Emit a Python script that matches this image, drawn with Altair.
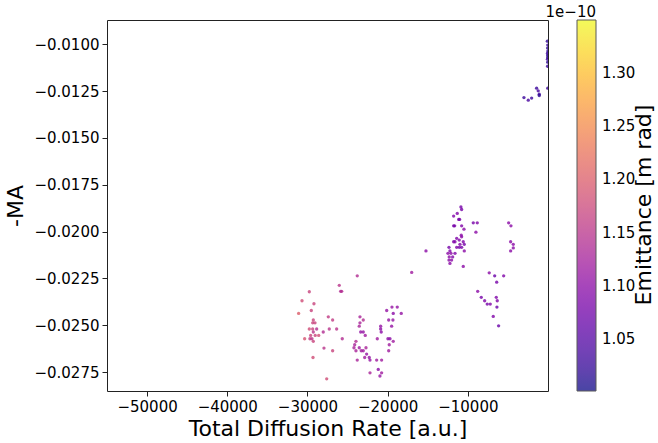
import altair as alt
import pandas as pd

# Total diffusion rate [a.u.] per working point
diffusion_rate = [
    # low-diffusion group
    -29770, -30680, -29190, -29520, -31100, -27400, -26860, -29270, -29350, -29060,
    -29770, -29350, -28850, -27280, -29270, -28030, -29600, -29030, -28600, -30350,
    -29690, -29440, -29270, -27940, -26860, -29310, -27600,
    # intermediate group
    -23790, -26030, -25860, -25730, -19460, -18800, -20120, -19300, -18300, -23450,
    -23040, -19870, -19340, -23450, -19500, -20870, -23540, -20870, -26360, -23360,
    -23040, -20800, -22790, -25660, -21290, -19960, -19710, -23950, -19300, -24110,
    -19800, -24200, -23540, -22700, -23950, -23290, -23040, -19870, -22620, -22860,
    -22290, -22200, -21370, -20750, -23790, -21170, -22200, -20750, -20960,
    -17000, -15220,
    # upper group
    -10860, -10770, -11320, -11770, -11140, -11020, -9320, -8820, -4910, -4620,
    -11770, -11640, -10770, -10480, -8990, -10820, -10770, -11390, -11070, -11770,
    -11600, -10570, -4660, -10980, -10440, -4330, -4330, -12350, -11390, -11070,
    -10770, -12230, -10440, -4660, -12480, -12100, -11600, -12320, -11890, -12350,
    -12020, -12230, -10570,
    # right-hand group
    -7330, -6650, -5530, -6400, -8770, -8320, -7900, -7580, -7200, -6450,
    -6330, -6370, -6830, -6160,
    # near-zero diffusion
    -3000, -2460, -2040, -1420, -1220, -1090, -1090,
    -80, -30, -50, -20, -60, -40, -30, -70, -40, -50, -30,
]

# Negative momentum acceptance (-MA)
minus_ma = [
    -0.02321, -0.02369, -0.02385, -0.02421, -0.02437, -0.02455, -0.02472, -0.02472, -0.02487, -0.02487,
    -0.02520, -0.02520, -0.02520, -0.02520, -0.02536, -0.02536, -0.02554, -0.02554, -0.02554, -0.02572,
    -0.02572, -0.02572, -0.02586, -0.02622, -0.02636, -0.02672, -0.02786,
    -0.02236, -0.02287, -0.02319, -0.02319, -0.02403, -0.02403, -0.02421, -0.02437, -0.02437, -0.02455,
    -0.02472, -0.02472, -0.02472, -0.02487, -0.02505, -0.02505, -0.02505, -0.02520, -0.02520, -0.02536,
    -0.02536, -0.02536, -0.02554, -0.02572, -0.02572, -0.02572, -0.02572, -0.02586, -0.02586, -0.02604,
    -0.02604, -0.02620, -0.02620, -0.02620, -0.02636, -0.02636, -0.02636, -0.02636, -0.02654, -0.02672,
    -0.02672, -0.02686, -0.02686, -0.02686, -0.02686, -0.02736, -0.02754, -0.02754, -0.02771,
    -0.02218, -0.02103,
    -0.01868, -0.01882, -0.01903, -0.01917, -0.01935, -0.01935, -0.01953, -0.01953, -0.01953, -0.01969,
    -0.01969, -0.01969, -0.01969, -0.01987, -0.02003, -0.02019, -0.02028, -0.02036, -0.02045, -0.02054,
    -0.02054, -0.02054, -0.02054, -0.02068, -0.02068, -0.02068, -0.02087, -0.02084, -0.02084, -0.02084,
    -0.02084, -0.02103, -0.02103, -0.02103, -0.02116, -0.02116, -0.02116, -0.02135, -0.02135, -0.02152,
    -0.02152, -0.02170, -0.02186,
    -0.02220, -0.02236, -0.02236, -0.02270, -0.02319, -0.02351, -0.02369, -0.02387, -0.02387, -0.02351,
    -0.02369, -0.02403, -0.02453, -0.02503,
    -0.01284, -0.01298, -0.01287, -0.01234, -0.01248, -0.01266, -0.01273,
    -0.00983, -0.01004, -0.01020, -0.01036, -0.01047, -0.01058, -0.01069, -0.01079, -0.01095, -0.01117,
    -0.01234,
]

# Emittance in units of 1e-10 m rad
emittance = [
    1.17, 1.18, 1.17, 1.17, 1.20, 1.16, 1.16, 1.17, 1.17, 1.17,
    1.18, 1.17, 1.14, 1.15, 1.15, 1.14, 1.17, 1.17, 1.18, 1.19,
    1.16, 1.15, 1.17, 1.15, 1.17, 1.18, 1.18,
    1.14, 1.15, 1.14, 1.14, 1.11, 1.11, 1.11, 1.10, 1.11, 1.13,
    1.14, 1.11, 1.11, 1.13, 1.11, 1.11, 1.13, 1.10, 1.15, 1.11,
    1.11, 1.10, 1.12, 1.14, 1.12, 1.10, 1.10, 1.14, 1.12, 1.13,
    1.12, 1.13, 1.12, 1.13, 1.13, 1.12, 1.12, 1.12, 1.11, 1.12,
    1.11, 1.11, 1.12, 1.12, 1.13, 1.10, 1.13, 1.12, 1.11,
    1.12, 1.10,
    1.08, 1.08, 1.09, 1.09, 1.08, 1.08, 1.08, 1.09, 1.10, 1.10,
    1.08, 1.08, 1.09, 1.10, 1.10, 1.10, 1.10, 1.09, 1.09, 1.09,
    1.09, 1.09, 1.10, 1.09, 1.08, 1.10, 1.10, 1.08, 1.09, 1.08,
    1.08, 1.09, 1.10, 1.10, 1.10, 1.10, 1.09, 1.10, 1.09, 1.10,
    1.10, 1.10, 1.10,
    1.10, 1.07, 1.09, 1.08, 1.10, 1.08, 1.09, 1.08, 1.09, 1.09,
    1.09, 1.07, 1.09, 1.07,
    1.03, 1.04, 1.03, 1.03, 1.04, 1.03, 1.02,
    1.02, 1.03, 1.02, 1.02, 1.03, 1.02, 1.02, 1.03, 1.02, 1.03,
    1.03,
]

x_ticks = [-50000, -40000, -30000, -20000, -10000]
y_ticks = [-0.0100, -0.0125, -0.0150, -0.0175, -0.0200, -0.0225, -0.0250, -0.0275]
cbar_ticks = [1.05, 1.10, 1.15, 1.20, 1.25, 1.30]
x_domain = [-55000, 0]
y_domain = [-0.02851, -0.00870]
emit_domain = [1.001, 1.35]

df = pd.DataFrame({"rate": diffusion_rate, "ma": minus_ma, "emit": emittance})

FONT = "DejaVu Sans"

points = alt.Chart(df).mark_circle(size=11, opacity=0.8, clip=True).encode(
    x=alt.X(
        "rate:Q",
        scale=alt.Scale(domain=x_domain, nice=False, zero=False),
        axis=alt.Axis(values=x_ticks, format="d", title="Total Diffusion Rate [a.u.]"),
    ),
    y=alt.Y(
        "ma:Q",
        scale=alt.Scale(domain=y_domain, nice=False, zero=False),
        axis=alt.Axis(values=y_ticks, format=".4f", title="-MA"),
    ),
    color=alt.Color(
        "emit:Q",
        scale=alt.Scale(scheme="plasma", domain=emit_domain),
        legend=alt.Legend(
            orient="none",
            legendX=470,
            legendY=0,
            direction="vertical",
            gradientLength=371,
            gradientThickness=19,
            gradientOpacity=0.75,
            gradientStrokeColor="#222222",
            gradientStrokeWidth=1,
            values=cbar_ticks,
            format=".2f",
            labelFontSize=15,
            labelFont=FONT,
            labelColor="black",
            labelOffset=6,
            padding=0,
            title=None,
        ),
    ),
)

# Scale factor shown above the colour bar
offset_text = alt.Chart(pd.DataFrame({"t": ["1e\u221210"]})).mark_text(
    align="right", baseline="alphabetic", fontSize=15, font=FONT, color="black"
).encode(x=alt.value(489), y=alt.value(-3), text="t:N")

# Colour bar label, reading bottom to top
cbar_title = alt.Chart(pd.DataFrame({"t": ["Emittance [m rad]"]})).mark_text(
    align="center", baseline="middle", angle=270, fontSize=22, font=FONT, color="black"
).encode(x=alt.value(537), y=alt.value(185), text="t:N")

chart = (
    alt.layer(points, offset_text, cbar_title)
    .properties(
        width=441,
        height=371,
        autosize=alt.AutoSizeParams(type="none"),
        padding={"left": 107, "top": 20, "right": 110, "bottom": 52},
        background="white",
    )
    .configure_view(stroke="#222222", strokeWidth=1)
    .configure_axis(
        labelFont=FONT,
        labelFontSize=15,
        labelColor="black",
        titleFont=FONT,
        titleFontSize=22,
        titleFontWeight="normal",
        titleColor="black",
        tickColor="#222222",
        tickSize=5,
        tickWidth=1,
        labelPadding=3,
        domain=False,
        grid=False,
    )
    .configure_axisX(titlePadding=4)
    .configure_axisY(titlePadding=6)
)

chart.save("out.html", embed_options={"renderer": "svg", "actions": False})
